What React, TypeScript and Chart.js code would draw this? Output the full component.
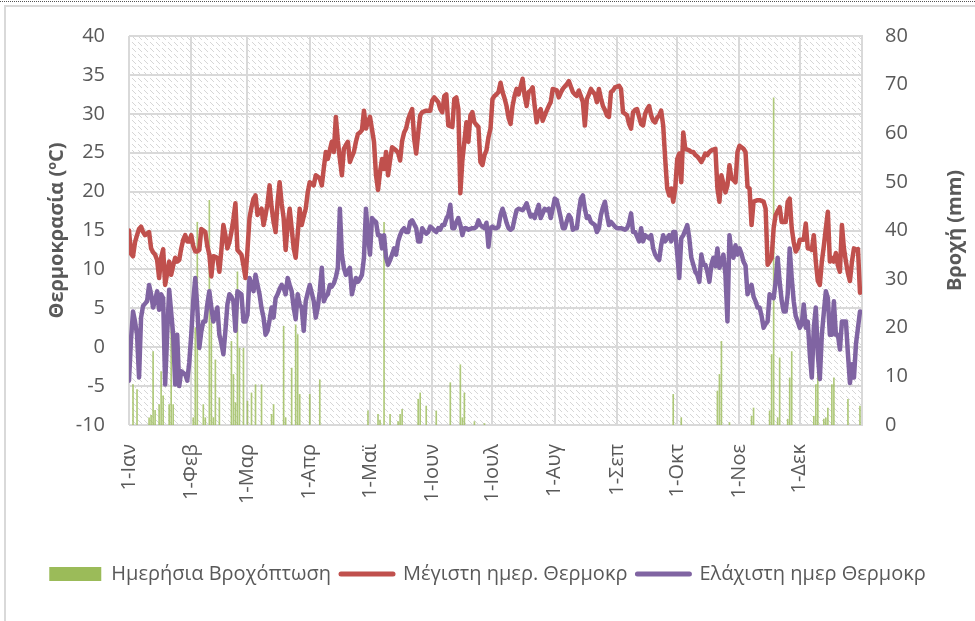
import React, { useEffect, useRef } from "react";
import { Chart, registerables } from "chart.js";

Chart.register(...registerables);

// Day-of-year positions of the month ticks and their labels
const monthStarts = [0, 31, 59, 90, 120, 151, 181, 212, 243, 273, 304, 334];
const monthLabels = ["1-Ιαν", "1-Φεβ", "1-Μαρ", "1-Απρ", "1-Μαϊ", "1-Ιουν", "1-Ιουλ", "1-Αυγ", "1-Σεπ", "1-Οκτ", "1-Νοε", "1-Δεκ"];

// Daily maximum temperature (°C), one value per day, Jan..Dec
const tMax = [
  15, 12, 11.7, 13.5, 14.4, 15.2, 15.5, 14.8, 14.4, 14.6, 14.8, 12.7, 12.2, 11.9, 11.2, 8.9, 11.5, 12.6, 8.0, 9.5, 11.0, 9.3, 10.5, 11.5, 11.0, 11.2, 12.7, 13.8, 14.4, 13.6, 13.6,
  14.4, 13.0, 12.3, 12.3, 12.5, 15.2, 15.0, 14.8, 13.0, 11.9, 9.1, 11.7, 11.6, 11.5, 9.7, 12.5, 15.7, 14.4, 12.7, 13.5, 14.8, 16.5, 18.5, 12.5, 12.2, 11.9, 10.5, 8.9,
  12.5, 16.6, 18.0, 19.1, 19.5, 17.0, 17.5, 17.8, 15.7, 17.0, 18.5, 20.8, 18.0, 16.1, 14.8, 18.7, 21.2, 18.5, 16.6, 12.5, 15.7, 17.8, 15.3, 12.7, 11.5, 14.5, 17.8, 15.7, 16.8, 17.8, 19.9,
  21.2, 21.0, 20.8, 22.1, 21.9, 21.7, 20.8, 23.0, 25.1, 24.2, 25.3, 26.4, 25.1, 29.6, 26.5, 24.2, 22.1, 25.5, 26.0, 26.4, 23.8, 24.5, 25.1, 26.4, 27.4, 27.6, 27.9, 30.4, 28.1, 29.0,
  29.6, 28.0, 26.4, 22.1, 20.2, 22.5, 24.2, 22.9, 25.1, 22.1, 24.0, 25.7, 25.5, 25.3, 25.0, 24.0, 26.5, 27.6, 28.1, 29.3, 30.0, 30.6, 26.8, 24.9, 27.5, 29.8, 30.2, 30.3, 30.4, 30.4, 30.4,
  31.7, 32.1, 31.8, 31.5, 30.6, 30.2, 32.3, 32.5, 28.5, 28.4, 28.3, 31.9, 32.1, 30.6, 19.8, 24.0, 26.4, 28.9, 26.4, 29.8, 30.2, 28.9, 28.6, 28.3, 23.8, 23.4, 24.7, 25.3, 27.0, 28.1,
  31.9, 32.3, 32.5, 32.8, 34.0, 32.8, 32.0, 31.0, 29.5, 28.7, 31.0, 32.3, 33.2, 32.5, 33.5, 34.5, 32.3, 31.0, 32.8, 33.0, 33.4, 31.0, 28.9, 30.2, 30.6, 29.1, 29.8, 30.4, 31.0, 31.5, 33.2,
  33.1, 33.0, 32.1, 32.7, 33.2, 33.5, 33.8, 34.2, 33.5, 32.8, 32.5, 32.3, 33.0, 32.3, 31.5, 28.5, 31.9, 32.5, 33.2, 32.8, 32.5, 31.5, 33.2, 32.0, 31.0, 30.5, 29.8, 29.6, 32.8, 33.0, 33.4,
  33.5, 33.6, 33.2, 30.2, 30.0, 29.8, 28.7, 28.1, 30.2, 30.5, 30.6, 29.6, 28.7, 28.5, 30.0, 30.6, 31.0, 29.8, 29.1, 28.9, 29.5, 29.8, 30.4, 28.5, 24.2, 20.4, 19.5, 20.4, 18.7, 20.4,
  24.2, 24.9, 21.2, 27.6, 25.5, 25.4, 25.3, 25.1, 25.1, 24.7, 24.5, 24.2, 23.8, 24.3, 24.9, 24.7, 25.1, 25.3, 25.4, 25.5, 20.4, 18.7, 22.1, 21.0, 19.9, 20.8, 23.4, 21.7, 21.5, 21.2, 25.1,
  25.9, 25.7, 25.5, 25.1, 20.6, 20.4, 15.7, 18.7, 18.8, 18.9, 18.9, 18.8, 18.7, 17.8, 10.6, 11.0, 11.5, 15.3, 17.0, 17.5, 18.0, 16.1, 16.1, 16.1, 18.7, 19.1, 15.3, 13.5, 12.3, 12.7,
  13.8, 13.8, 13.8, 15.9, 12.7, 12.7, 12.5, 14.4, 11.0, 8.5, 8.0, 11.0, 13.0, 15.3, 17.4, 11.0, 11.5, 11.0, 12.1, 10.5, 9.7, 15.7, 12.7, 11.0, 9.5, 8.5, 11.0, 12.7, 12.5, 12.6, 7.0,
];

// Daily minimum temperature (°C), one value per day, Jan..Dec
const tMin = [
  -4.3, 1.0, 4.6, 3.3, 1.6, -3.9, 3.8, 5.3, 5.6, 5.9, 8.0, 6.8, 5.1, 6.0, 7.2, 4.8, 6.8, 6.3, -4.8, 1.6, 7.4, 4.5, 1.6, -4.8, 1.6, -5.0, -3.1, -3.3, -3.5, -4.3, -2.0,
  1.6, 6.0, 8.9, 5.1, -0.1, 2.0, 3.3, 3.3, 5.5, 7.2, 5.1, 3.3, 4.2, 5.1, 1.6, 0.5, -0.9, 2.1, 5.5, 6.8, 6.5, 5.9, 2.1, 7.2, 7.0, 6.8, 3.3, 3.3,
  4.2, 8.9, 8.0, 7.2, 9.3, 8.0, 6.8, 5.0, 3.8, 1.6, 2.1, 3.5, 5.1, 3.8, 6.3, 6.8, 7.5, 8.0, 7.6, 6.8, 8.9, 8.0, 7.2, 5.1, 3.6, 6.8, 5.5, 5.1, 2.1, 5.9, 7.0,
  8.0, 7.0, 5.9, 3.8, 5.1, 7.2, 10.2, 5.9, 6.5, 6.8, 8.0, 7.8, 8.2, 9.0, 10.2, 17.8, 11.9, 10.2, 9.3, 9.8, 10.2, 6.8, 8.0, 8.9, 8.4, 8.8, 9.3, 11.5, 17.8, 14.4,
  11.9, 16.6, 16.3, 16.1, 14.4, 14.4, 12.7, 14.4, 11.5, 10.6, 11.2, 11.9, 12.7, 11.9, 13.6, 14.4, 15.0, 15.3, 14.8, 14.8, 16.1, 16.3, 15.8, 15.3, 13.6, 13.6, 15.3, 14.9, 14.6, 14.8, 15.5,
  15.3, 15.0, 14.8, 15.3, 15.1, 15.7, 15.7, 16.5, 17.0, 18.3, 15.3, 15.3, 16.1, 16.6, 15.7, 14.4, 15.3, 15.3, 15.1, 15.2, 15.3, 15.3, 15.5, 16.3, 15.7, 15.5, 15.3, 16.0, 12.9, 15.3,
  15.5, 15.3, 15.3, 15.5, 17.0, 17.8, 17.0, 16.0, 15.3, 15.1, 15.3, 16.5, 17.6, 17.8, 17.7, 17.6, 18.0, 18.5, 17.6, 16.8, 17.0, 16.6, 17.5, 18.3, 16.6, 17.2, 17.8, 17.6, 17.8, 16.6, 17.8,
  19.1, 18.9, 17.8, 16.6, 15.3, 15.3, 16.2, 17.0, 16.6, 15.1, 15.3, 15.3, 17.4, 19.1, 19.5, 17.8, 16.6, 16.8, 16.1, 15.9, 15.7, 14.8, 15.3, 17.0, 18.0, 18.7, 17.0, 15.7, 16.1, 15.8, 15.5,
  15.3, 15.3, 15.3, 15.2, 15.1, 15.3, 16.0, 17.2, 14.8, 14.8, 14.2, 13.6, 15.3, 13.6, 14.4, 14.2, 14.0, 14.4, 12.7, 11.9, 11.5, 11.2, 13.1, 14.4, 13.6, 14.0, 14.4, 13.6, 14.8, 14.8,
  12.0, 8.9, 14.0, 14.4, 15.0, 15.7, 14.0, 11.5, 10.6, 9.7, 9.3, 8.4, 11.9, 10.6, 10.6, 9.7, 8.4, 10.6, 11.5, 10.4, 12.7, 10.2, 11.0, 11.9, 9.3, 3.3, 14.4, 12.0, 11.5, 13.1, 11.9,
  12.7, 12.0, 11.0, 10.5, 6.8, 7.6, 8.0, 6.5, 5.9, 5.1, 5.1, 4.0, 2.5, 3.0, 3.3, 6.8, 6.5, 6.3, 8.4, 11.5, 8.4, 6.0, 4.6, 4.6, 6.8, 12.7, 8.9, 5.9, 4.0, 3.3,
  2.5, 3.0, 5.5, 2.5, 3.3, -0.9, -3.9, 2.5, 5.1, -0.9, -4.1, 1.6, 4.5, 7.2, 6.3, 1.6, 1.6, 5.9, 1.6, 1.6, -0.3, 3.3, 3.3, 3.3, -0.9, -4.6, -2.2, -3.9, 0.4, 2.5, 4.6,
];

// Rainy days (day-of-year index) and daily rainfall (mm)
const rainDays = [
  2, 4, 10, 11, 12, 13, 15, 16, 17, 20, 21, 22, 32, 33, 34, 37, 38, 40, 41, 42,
  43, 45, 51, 52, 53, 54, 55, 57, 59, 61, 63, 66, 71, 72, 77, 78, 81, 83, 84, 85,
  90, 95, 119, 124, 125, 127, 130, 134, 135, 136, 144, 145, 148, 153, 160, 165, 166, 167, 172, 177,
  271, 275, 293, 294, 295, 299, 310, 311, 319, 320, 321, 323, 324, 328, 329, 330, 341, 342, 343, 346,
  347, 348, 350, 351, 358, 364,
];
const rainMm = [
  8.3, 7.3, 1.5, 2.0, 15.1, 3.0, 4.2, 11.0, 6.0, 4.2, 21.3, 4.2, 1.5, 20.0, 41.7, 4.2, 1.5, 46.2, 25.0, 1.5,
  13.4, 5.6, 17.2, 10.4, 4.6, 31.5, 15.8, 15.8, 4.9, 6.6, 8.3, 8.3, 2.2, 4.2, 20.3, 1.5, 11.7, 20.6, 18.6, 6.3,
  6.3, 9.3, 2.9, 2.2, 1.0, 41.7, 2.2, 0.7, 2.2, 3.2, 5.3, 6.6, 3.9, 2.9, 8.7, 12.4, 1.5, 6.6, 0.7, 0.3,
  6.3, 1.5, 7.0, 10.4, 17.2, 0.5, 1.8, 3.5, 2.9, 14.5, 67.3, 1.5, 13.8, 1.2, 9.7, 15.1, 1.8, 8.3, 15.8, 1.2,
  1.5, 3.5, 8.3, 9.7, 5.3, 3.9,
];

const seriesNames = ["Ημερήσια Βροχόπτωση", "Μέγιστη ημερ. Θερμοκρ", "Ελάχιστη ημερ Θερμοκρ"];
const seriesColors = ["#9BBB59", "#C0504D", "#8064A2"];

const FONT = '"Open Sans", "Liberation Sans", sans-serif';
const TEXT = "#595959";
const GRID = "#d9d9d9";

const framePlugin = {
  id: "framePlugin",
  beforeDraw(chart: any) {
    const { ctx, chartArea: a, width, height } = chart;
    ctx.save();
    ctx.fillStyle = "#ffffff";
    ctx.fillRect(0, 0, width, height);
    // outer frame
    ctx.fillStyle = "#d9d9d9";
    ctx.fillRect(4, 5, width - 4, 2);
    ctx.fillRect(4, 5, 2, height - 5);
    ctx.strokeStyle = "#555";
    ctx.lineWidth = 1;
    ctx.setLineDash([1, 1]);
    ctx.beginPath();
    ctx.moveTo(0, 1.5);
    ctx.lineTo(width, 1.5);
    ctx.stroke();
    ctx.setLineDash([]);
    // hatched plot background
    const tile = document.createElement("canvas");
    tile.width = 6;
    tile.height = 6;
    const t = tile.getContext("2d")!;
    t.fillStyle = "#ffffff";
    t.fillRect(0, 0, 6, 6);
    t.fillStyle = "#d6d6d6";
    for (let i = 0; i < 4; i++) t.fillRect(i, i, 1, 1);
    const pat = ctx.createPattern(tile, "repeat");
    ctx.fillStyle = pat;
    ctx.fillRect(a.left, a.top, a.right - a.left, a.bottom - a.top);
    ctx.restore();
  },
  afterDraw(chart: any) {
    const { ctx, chartArea: a } = chart;
    ctx.save();
    ctx.translate(955, (a.top + a.bottom) / 2);
    ctx.rotate(-Math.PI / 2);
    ctx.font = `bold 20px ${FONT}`;
    ctx.fillStyle = TEXT;
    ctx.textAlign = "center";
    ctx.textBaseline = "middle";
    ctx.fillText("Βροχή (mm)", 0, 0);
    ctx.restore();
  },
};

export default function App() {
  const ref = useRef<HTMLCanvasElement>(null);

  useEffect(() => {
    const canvas = ref.current!;
    const font = { family: FONT, size: 20 };
    const chart = new Chart(canvas, {
      type: "bar",
      data: {
        datasets: [
          {
            type: "bar",
            label: seriesNames[0],
            data: rainDays.map((d, i) => ({ x: d, y: rainMm[i] })),
            backgroundColor: "rgba(155,187,89,0.8)",
            barThickness: 1,
            yAxisID: "y1",
            order: 3,
          } as any,
          {
            type: "line",
            label: seriesNames[1],
            data: tMax.map((v, i) => ({ x: i, y: v })),
            borderColor: seriesColors[1],
            backgroundColor: seriesColors[1],
            borderWidth: 4.5,
            pointRadius: 0,
            tension: 0,
            borderJoinStyle: "round",
            borderCapStyle: "round",
            yAxisID: "y",
            order: 1,
          },
          {
            type: "line",
            label: seriesNames[2],
            data: tMin.map((v, i) => ({ x: i, y: v })),
            borderColor: seriesColors[2],
            backgroundColor: seriesColors[2],
            borderWidth: 4.5,
            pointRadius: 0,
            tension: 0,
            borderJoinStyle: "round",
            borderCapStyle: "round",
            yAxisID: "y",
            order: 2,
          },
        ],
      },
      options: {
        animation: false,
        responsive: false,
        maintainAspectRatio: false,
        layout: { padding: { top: 33, left: 0, right: 0, bottom: 27 } },
        scales: {
          x: {
            type: "linear",
            min: 0,
            max: 365,
            offset: false,
            afterBuildTicks: (s: any) => {
              s.ticks = monthStarts.map((v) => ({ value: v }));
            },
            afterFit: (s: any) => {
              s.height = 129;
            },
            ticks: {
              autoSkip: false,
              maxRotation: 90,
              minRotation: 90,
              padding: 19,
              color: TEXT,
              font,
              callback: (v: any) => {
                const k = monthStarts.indexOf(Number(v));
                return k >= 0 ? monthLabels[k] : "";
              },
            },
            grid: { color: GRID, lineWidth: 2, drawTicks: false, offset: false },
            border: { display: false },
          },
          y: {
            position: "left",
            min: -10,
            max: 40,
            afterFit: (s: any) => {
              s.width = 129;
            },
            ticks: { stepSize: 5, color: TEXT, font, padding: 24 },
            grid: { color: GRID, lineWidth: 2, drawTicks: false },
            border: { display: false },
            title: {
              display: true,
              text: "Θερμοκρασία (ºC)",
              color: TEXT,
              font: { family: FONT, size: 20, weight: "bold" },
              padding: { top: 45, bottom: 0 },
            },
          },
          y1: {
            position: "right",
            min: 0,
            max: 80,
            afterFit: (s: any) => {
              s.width = 113;
            },
            ticks: { stepSize: 10, color: TEXT, font, padding: 23 },
            grid: { display: false, drawTicks: false },
            border: { display: true, color: GRID, width: 2 },
          },
        },
        plugins: {
          tooltip: { enabled: false },
          legend: {
            position: "bottom",
            labels: {
              usePointStyle: true,
              pointStyleWidth: 52,
              boxHeight: 14,
              padding: 10,
              color: TEXT,
              font,
              sort: (a: any, b: any) => a.datasetIndex - b.datasetIndex,
              generateLabels: (c: any) => {
                const items = (Chart.defaults.plugins.legend.labels as any).generateLabels(c);
                items.forEach((it: any) => {
                  const col = seriesColors[it.datasetIndex];
                  if (it.datasetIndex === 0) {
                    it.pointStyle = "rect";
                    it.fillStyle = col;
                    it.strokeStyle = col;
                    it.lineWidth = 0;
                  } else {
                    it.pointStyle = "line";
                    it.strokeStyle = col;
                    it.fillStyle = col;
                    it.lineWidth = 5;
                    it.lineCap = "round";
                  }
                });
                return items;
              },
            },
          },
        },
      } as any,
      plugins: [framePlugin],
    });
    return () => chart.destroy();
  }, []);

  return (
    <div style={{ position: "fixed", left: 0, top: 0, width: 975, height: 621, background: "#fff" }}>
      <canvas ref={ref} width={975} height={621} style={{ width: 975, height: 621, display: "block" }} />
    </div>
  );
}
